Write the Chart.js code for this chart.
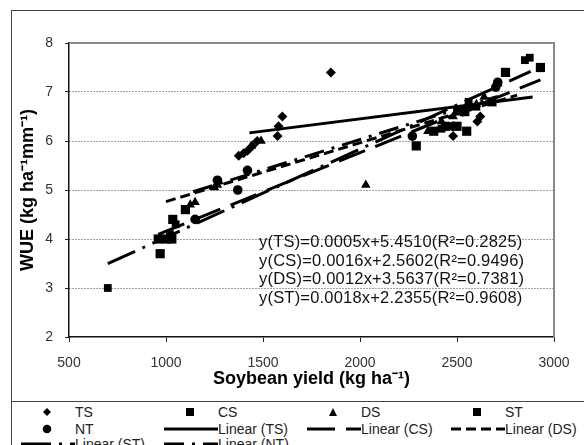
<!DOCTYPE html>
<html>
<head>
<meta charset="utf-8">
<script src="https://cdn.jsdelivr.net/npm/chart.js@4/dist/chart.umd.min.js"></script>
<style>
    body { margin: 0; background: #fff; font-family: "Liberation Sans", Arial, sans-serif; }
    #wrap { position: relative; width: 584px; height: 445px; overflow: hidden; }
    #frame { position: absolute; left: 11px; top: 10px; width: 620px; height: 520px; border-left: 1px solid #444; border-top: 1px solid #444; }
    #box { position: absolute; left: 0; top: 0; width: 584px; height: 401px; }
    #legend { position: absolute; left: 11px; top: 401px; width: 620px; height: 60px; border-top: 1px solid #444; }
    #eq { position: absolute; left: 259px; top: 232px; font-size: 16.5px; letter-spacing: 0.2px; line-height: 18.7px; color: #111; white-space: nowrap; }
    .lg { position: absolute; font-size: 14px; color: #222; white-space: nowrap; line-height: 16px; }
    .lg svg { position: absolute; }
</style>
</head>
<body>
<div id="wrap">
    <div id="frame"></div>
    <div id="box"><canvas id="chart"></canvas></div>
    <div id="eq"></div>
    <div id="legend"></div>
</div>
<script>
// series names
const seriesNames = ['TS', 'CS', 'DS', 'ST', 'NT'];

// points (soybean yield, WUE)
const tsX = [1375, 1400, 1420, 1445, 1470, 1575, 1580, 1600, 1850, 2480, 2530, 2570, 2605, 2620];
const tsY = [5.7, 5.75, 5.8, 5.9, 6.0, 6.1, 6.3, 6.5, 7.4, 6.1, 6.6, 6.7, 6.4, 6.5];

const csX = [960, 970, 1000, 1030, 1035, 1100, 2290, 2380, 2440, 2500, 2550, 2540, 2680, 2750, 2930];
const csY = [4.0, 3.7, 4.0, 4.0, 4.4, 4.6, 5.9, 6.2, 6.3, 6.3, 6.2, 6.6, 6.8, 7.4, 7.5];

const dsX = [1125, 1150, 1250, 1265, 1440, 1490, 2030, 2350, 2420, 2480, 2540, 2600, 2640];
const dsY = [4.7, 4.75, 5.05, 5.1, 5.9, 6.0, 5.1, 6.2, 6.4, 6.5, 6.6, 6.75, 6.9];

const stX = [700, 990, 1020, 1050, 2420, 2500, 2560, 2600, 2850, 2875];
const stY = [3.0, 4.0, 4.1, 4.3, 6.25, 6.6, 6.8, 6.7, 7.65, 7.7];

const ntX = [1150, 1265, 1370, 1420, 2270, 2480, 2530, 2560, 2700, 2710];
const ntY = [4.4, 5.2, 5.0, 5.4, 6.1, 6.3, 6.6, 6.7, 7.1, 7.2];

// linear fits (TS, CS, DS, ST from the equations; NT)
const slopes = [0.0005, 0.0016, 0.0012, 0.0018, 0.00124];
const intercepts = [5.4510, 2.5602, 3.5637, 2.2355, 3.55];
const r2 = [0.2825, 0.9496, 0.7381, 0.9608];
const fitFrom = [1430, 960, 1000, 700, 1140];
const fitTo = [2890, 2930, 2810, 2880, 2710];

const xTicks = [500, 1000, 1500, 2000, 2500, 3000];
const yTicks = [2, 3, 4, 5, 6, 7, 8];

const xs = [tsX, csX, dsX, stX, ntX];
const ys = [tsY, csY, dsY, stY, ntY];
const markers = ['rectRot', 'rect', 'triangle', 'rect', 'circle'];
const markerSize = [5, 6.5, 5.5, 5.5, 4.8];
const dashes = [[], [28, 11], [10, 5], [30, 8, 3, 8], [20, 8, 3, 8]];

const font = '"Liberation Sans", Arial, sans-serif';

const datasets = [];
seriesNames.forEach((name, i) => {
    datasets.push({
        label: name,
        data: xs[i].map((x, k) => ({ x: x, y: ys[i][k] })),
        pointStyle: markers[i],
        pointRadius: markerSize[i],
        backgroundColor: '#000',
        borderColor: '#000',
        borderWidth: 0,
        showLine: false
    });
});
seriesNames.forEach((name, i) => {
    datasets.push({
        label: 'Linear (' + name + ')',
        type: 'line',
        data: [fitFrom[i], fitTo[i]].map(x => ({ x: x, y: slopes[i] * x + intercepts[i] })),
        borderColor: '#000',
        borderWidth: 3,
        borderDash: dashes[i],
        pointRadius: 0,
        fill: false
    });
});

const plotFrame = {
    id: 'plotFrame',
    beforeDatasetsDraw(chart) {
        const { ctx, chartArea: a } = chart;
        ctx.save();
        ctx.strokeStyle = '#8a8a8a';
        ctx.lineWidth = 2;
        ctx.beginPath();
        ctx.moveTo(a.left, a.top);
        ctx.lineTo(a.right, a.top);
        ctx.lineTo(a.right, a.bottom);
        ctx.stroke();
        ctx.restore();
    }
};

new Chart(document.getElementById('chart'), {
    type: 'scatter',
    data: { datasets: datasets },
    options: {
        responsive: true,
        maintainAspectRatio: false,
        animation: false,
        layout: { padding: { top: 43, right: 30, left: 0, bottom: 0 } },
        plugins: { legend: { display: false }, tooltip: { enabled: false } },
        scales: {
            x: {
                type: 'linear', min: 500, max: 3000,
                afterFit: s => { s.height = 64; },
                afterBuildTicks: s => { s.ticks = xTicks.map(v => ({ value: v })); },
                grid: { drawOnChartArea: false, tickLength: 5, tickColor: '#222' },
                border: { color: '#111', width: 1.5 },
                ticks: { color: '#333', font: { family: font, size: 14 }, padding: 13, maxRotation: 0,
                    callback: v => String(v) },
                title: { display: true, text: 'Soybean yield (kg ha⁻¹)', color: '#000',
                    font: { family: font, size: 18, weight: 'bold' }, padding: { top: 0, bottom: 11 } }
            },
            y: {
                min: 2, max: 8,
                afterFit: s => { s.width = 69; },
                afterBuildTicks: s => { s.ticks = yTicks.map(v => ({ value: v })); },
                grid: {
                    color: c => (c.tick && (c.tick.value === 8 || c.tick.value === 2)) ? 'rgba(0,0,0,0)' : '#444',
                    lineWidth: 1, tickLength: 4, tickColor: '#222'
                },
                border: { color: '#111', width: 1.5, dash: [1, 2] },
                ticks: { color: '#333', font: { family: font, size: 14 }, padding: 12, callback: v => String(v) },
                title: { display: true, text: 'WUE (kg ha⁻¹mm⁻¹)', color: '#000',
                    font: { family: font, size: 18, weight: 'bold' }, padding: { top: 17, bottom: 0 } }
            }
        }
    },
    plugins: [plotFrame]
});

// regression equations inside the plot
document.getElementById('eq').innerHTML = seriesNames.slice(0, 4).map((n, i) =>
    `y(${n})=${slopes[i].toFixed(4)}x+${intercepts[i].toFixed(4)}(R²=${r2[i].toFixed(4)})`
).join('<br>');

// legend below the chart
const colText = [64, 207, 350, 494];
const rowMid = [10, 27, 42];
function markerSvg(style) {
    const shapes = {
        rectRot: '<polygon points="5,1 9,5 5,9 1,5" fill="#000"/>',
        rect: '<rect x="1" y="1" width="8" height="8" fill="#000"/>',
        triangle: '<polygon points="5,1 9,9 1,9" fill="#000"/>',
        circle: '<circle cx="5" cy="5" r="4.3" fill="#000"/>'
    };
    return `<svg width="10" height="10" style="left:-33px;top:3px">${shapes[style]}</svg>`;
}
function lineSvg(dash) {
    const d = dash.length ? `stroke-dasharray="${dash.join(',')}"` : '';
    return `<svg width="54" height="8" style="left:-54px;top:4px"><line x1="0" y1="4" x2="54" y2="4" stroke="#000" stroke-width="3" ${d}/></svg>`;
}
const entries = [];
seriesNames.forEach((n, i) => entries.push({ text: n, icon: markerSvg(markers[i]) }));
seriesNames.forEach((n, i) => entries.push({ text: 'Linear (' + n + ')', icon: lineSvg(dashes[i]) }));
const lg = document.getElementById('legend');
entries.forEach((e, k) => {
    const el = document.createElement('div');
    el.className = 'lg';
    el.style.left = colText[k % 4] + 'px';
    el.style.top = (rowMid[Math.floor(k / 4)] - 8) + 'px';
    el.innerHTML = e.icon + e.text;
    lg.appendChild(el);
});
</script>
</body>
</html>
